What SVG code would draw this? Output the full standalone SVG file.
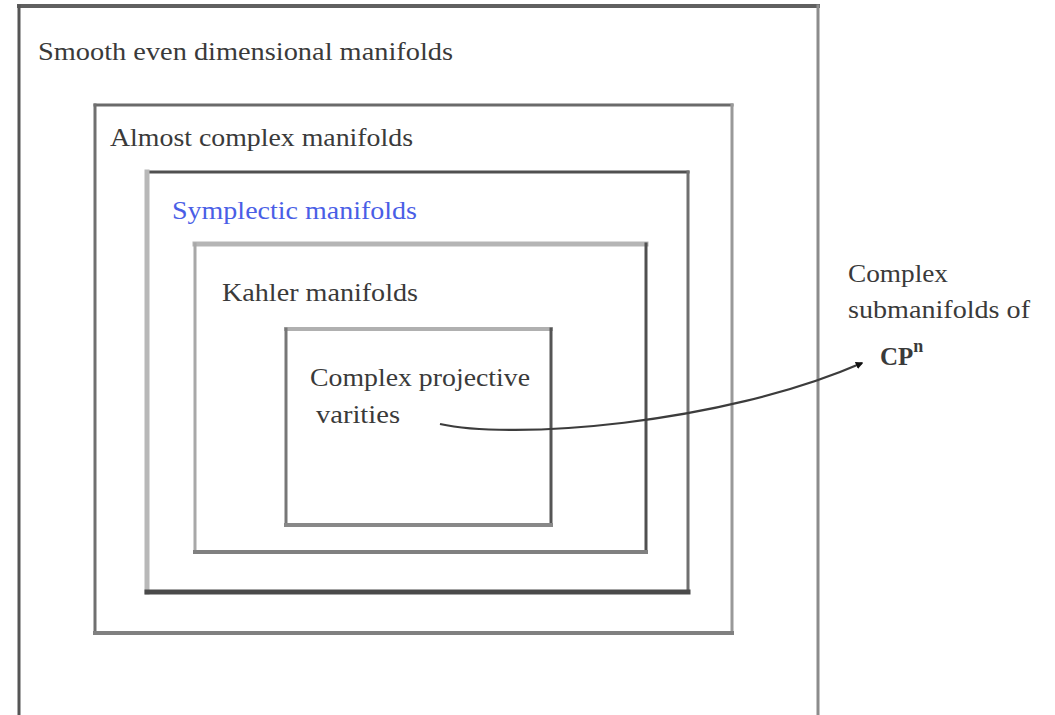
<svg xmlns="http://www.w3.org/2000/svg" width="1055" height="715" viewBox="0 0 1055 715">
<style>
  .t { font-family: "Liberation Serif", "DejaVu Serif", serif; font-size: 25px; fill: #3a3a3a; }
  .blue { fill: #4a5ee6; }
  line { stroke-linecap: square; }
  .conn { fill: none; stroke: #3c3c3c; stroke-width: 2.2; }
</style>
<defs>
  <marker id="arr" viewBox="0 0 10 10" refX="8" refY="5" markerWidth="3.5" markerHeight="3.5" orient="auto">
    <path d="M0,0 L10,5 L0,10 z" fill="#111"/>
  </marker>
</defs>
<rect width="1055" height="715" fill="#ffffff"/>

<g id="smooth">
  <line x1="19" y1="6" x2="818" y2="6" stroke="#606060" stroke-width="4"/>
  <line x1="19" y1="6" x2="19" y2="715" stroke="#555555" stroke-width="3"/>
  <line x1="818" y1="6" x2="818" y2="715" stroke="#8c8c8c" stroke-width="3"/>
  <text class="t" x="38" y="60" textLength="415" lengthAdjust="spacingAndGlyphs">Smooth even dimensional manifolds</text>
</g>

<g id="almost">
  <line x1="95" y1="105" x2="732" y2="105" stroke="#6a6a6a" stroke-width="3"/>
  <line x1="95" y1="105" x2="95" y2="633" stroke="#707070" stroke-width="3"/>
  <line x1="732" y1="105" x2="732" y2="633" stroke="#999999" stroke-width="3"/>
  <line x1="95" y1="633" x2="732" y2="633" stroke="#808080" stroke-width="4"/>
  <text class="t" x="110" y="146" textLength="303" lengthAdjust="spacingAndGlyphs">Almost complex manifolds</text>
</g>

<g id="symplectic">
  <line x1="147" y1="172" x2="688" y2="172" stroke="#505050" stroke-width="3"/>
  <line x1="147" y1="172" x2="147" y2="592" stroke="#b8b8b8" stroke-width="5"/>
  <line x1="688" y1="172" x2="688" y2="592" stroke="#707070" stroke-width="3"/>
  <line x1="147" y1="592" x2="688" y2="592" stroke="#4a4a4a" stroke-width="5"/>
  <text class="t blue" x="172" y="219" textLength="245" lengthAdjust="spacingAndGlyphs">Symplectic manifolds</text>
</g>

<g id="kahler">
  <line x1="195" y1="244" x2="646" y2="244" stroke="#b5b5b5" stroke-width="5"/>
  <line x1="195" y1="244" x2="195" y2="552" stroke="#a8a8a8" stroke-width="3"/>
  <line x1="646" y1="244" x2="646" y2="552" stroke="#505050" stroke-width="3"/>
  <line x1="195" y1="552" x2="646" y2="552" stroke="#808080" stroke-width="4"/>
  <text class="t" x="222" y="301" textLength="196" lengthAdjust="spacingAndGlyphs">Kahler manifolds</text>
</g>

<g id="projective">
  <line x1="286" y1="329" x2="551" y2="329" stroke="#b0b0b0" stroke-width="4"/>
  <line x1="286" y1="329" x2="286" y2="525" stroke="#777777" stroke-width="3"/>
  <line x1="551" y1="329" x2="551" y2="525" stroke="#555555" stroke-width="3"/>
  <line x1="286" y1="525" x2="551" y2="525" stroke="#888888" stroke-width="4"/>
  <text class="t" x="310" y="386" textLength="220" lengthAdjust="spacingAndGlyphs">Complex projective</text>
  <text class="t" x="316" y="423" textLength="84" lengthAdjust="spacingAndGlyphs">varities</text>
</g>

<g id="submanifolds">
  <text class="t" x="848" y="282" textLength="100" lengthAdjust="spacingAndGlyphs">Complex</text>
  <text class="t" x="848" y="318" textLength="182" lengthAdjust="spacingAndGlyphs">submanifolds of</text>
  <text class="t" x="880" y="365" font-size="27" font-weight="bold" fill="#222">CP<tspan font-size="18" dy="-13">n</tspan></text>
</g>

<g id="connectors">
  <path class="conn" d="M440,424 C510,440 720,425 862,363" marker-end="url(#arr)"/>
</g>
</svg>
